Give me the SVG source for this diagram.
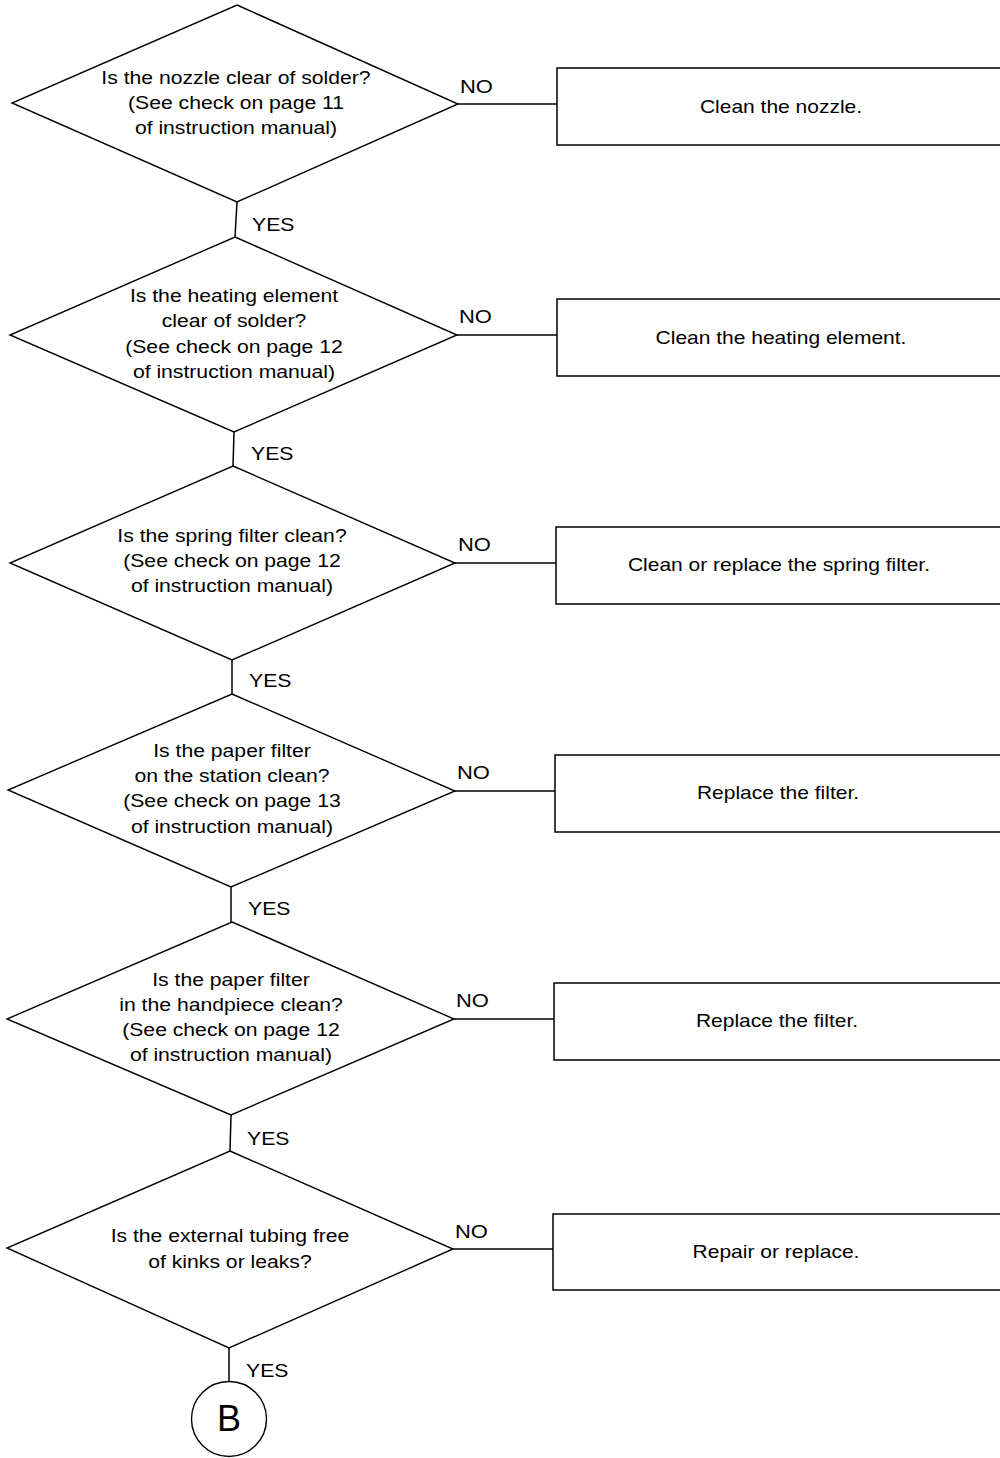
<svg xmlns="http://www.w3.org/2000/svg" width="1000" height="1458" viewBox="0 0 1000 1458">
<style>
.shape{fill:none;stroke:#000;stroke-width:1.4}
.box{fill:#fff;stroke:#000;stroke-width:1.5}
.t{font-family:"Liberation Sans",Arial,sans-serif;font-size:17.5px;fill:#000;text-anchor:middle}
.l{font-family:"Liberation Sans",Arial,sans-serif;font-size:18px;fill:#000}
.line{stroke:#000;stroke-width:1.5;fill:none}
</style>
<rect width="1000" height="1458" fill="#fff"/>
<g id="connectors">
<line class="line" x1="458" y1="104" x2="557" y2="104"/>
<line class="line" x1="237" y1="202" x2="235" y2="237"/>
<text class="l" transform="translate(252,231) scale(1.18,1)">YES</text>
<text class="l" transform="translate(460,93) scale(1.22,1)">NO</text>
<line class="line" x1="457" y1="335" x2="557" y2="335"/>
<line class="line" x1="234" y1="432" x2="233" y2="466"/>
<text class="l" transform="translate(251,460) scale(1.18,1)">YES</text>
<text class="l" transform="translate(459,323) scale(1.22,1)">NO</text>
<line class="line" x1="455" y1="563" x2="556" y2="563"/>
<line class="line" x1="232" y1="660" x2="232" y2="694"/>
<text class="l" transform="translate(249,687) scale(1.18,1)">YES</text>
<text class="l" transform="translate(458,551) scale(1.22,1)">NO</text>
<line class="line" x1="455" y1="791" x2="555" y2="791"/>
<line class="line" x1="231" y1="887" x2="231" y2="922"/>
<text class="l" transform="translate(248,915) scale(1.18,1)">YES</text>
<text class="l" transform="translate(457,779) scale(1.22,1)">NO</text>
<line class="line" x1="454" y1="1019" x2="554" y2="1019"/>
<line class="line" x1="231" y1="1115" x2="230" y2="1151"/>
<text class="l" transform="translate(247,1145) scale(1.18,1)">YES</text>
<text class="l" transform="translate(456,1007) scale(1.22,1)">NO</text>
<line class="line" x1="453" y1="1249" x2="553" y2="1249"/>
<line class="line" x1="229" y1="1348" x2="229" y2="1382"/>
<text class="l" transform="translate(246,1377) scale(1.18,1)">YES</text>
<text class="l" transform="translate(455,1238) scale(1.22,1)">NO</text>
</g>
<g id="q1">
<polygon class="shape" points="237,5 458,104 237,202 12,103"/>
<g transform="translate(236,0) scale(1.21,1)">
<text class="t" x="0" y="84">Is the nozzle clear of solder?</text>
<text class="t" x="0" y="109">(See check on page 11</text>
<text class="t" x="0" y="134">of instruction manual)</text>
</g>
</g>
<g id="a1">
<rect class="box" x="557" y="68" width="450" height="77"/>
<text class="t" transform="translate(781,113) scale(1.2,1)">Clean the nozzle.</text>
</g>
<g id="q2">
<polygon class="shape" points="235,237 457,335 234,432 10,335"/>
<g transform="translate(234,0) scale(1.21,1)">
<text class="t" x="0" y="302">Is the heating element</text>
<text class="t" x="0" y="327">clear of solder?</text>
<text class="t" x="0" y="353">(See check on page 12</text>
<text class="t" x="0" y="378">of instruction manual)</text>
</g>
</g>
<g id="a2">
<rect class="box" x="557" y="299" width="450" height="77"/>
<text class="t" transform="translate(781,344) scale(1.2,1)">Clean the heating element.</text>
</g>
<g id="q3">
<polygon class="shape" points="233,466 455,563 232,660 10,563"/>
<g transform="translate(232,0) scale(1.21,1)">
<text class="t" x="0" y="542">Is the spring filter clean?</text>
<text class="t" x="0" y="567">(See check on page 12</text>
<text class="t" x="0" y="592">of instruction manual)</text>
</g>
</g>
<g id="a3">
<rect class="box" x="556" y="527" width="450" height="77"/>
<text class="t" transform="translate(779,571) scale(1.2,1)">Clean or replace the spring filter.</text>
</g>
<g id="q4">
<polygon class="shape" points="232,694 455,791 231,887 8,790"/>
<g transform="translate(232,0) scale(1.21,1)">
<text class="t" x="0" y="757">Is the paper filter</text>
<text class="t" x="0" y="782">on the station clean?</text>
<text class="t" x="0" y="807">(See check on page 13</text>
<text class="t" x="0" y="833">of instruction manual)</text>
</g>
</g>
<g id="a4">
<rect class="box" x="555" y="755" width="450" height="77"/>
<text class="t" transform="translate(778,799) scale(1.2,1)">Replace the filter.</text>
</g>
<g id="q5">
<polygon class="shape" points="232,922 454,1019 231,1115 7,1019"/>
<g transform="translate(231,0) scale(1.21,1)">
<text class="t" x="0" y="986">Is the paper filter</text>
<text class="t" x="0" y="1011">in the handpiece clean?</text>
<text class="t" x="0" y="1036">(See check on page 12</text>
<text class="t" x="0" y="1061">of instruction manual)</text>
</g>
</g>
<g id="a5">
<rect class="box" x="554" y="983" width="450" height="77"/>
<text class="t" transform="translate(777,1027) scale(1.2,1)">Replace the filter.</text>
</g>
<g id="q6">
<polygon class="shape" points="230,1151 453,1249 229,1348 7,1248"/>
<g transform="translate(230,0) scale(1.21,1)">
<text class="t" x="0" y="1242">Is the external tubing free</text>
<text class="t" x="0" y="1268">of kinks or leaks?</text>
</g>
</g>
<g id="a6">
<rect class="box" x="553" y="1214" width="450" height="76"/>
<text class="t" transform="translate(776,1258) scale(1.2,1)">Repair or replace.</text>
</g>
<g id="B">
<circle class="shape" cx="229" cy="1419" r="37.5"/>
<text x="229" y="1431" style="font-family:'Liberation Sans',Arial,sans-serif;font-size:36px;text-anchor:middle">B</text>
</g>
</svg>
